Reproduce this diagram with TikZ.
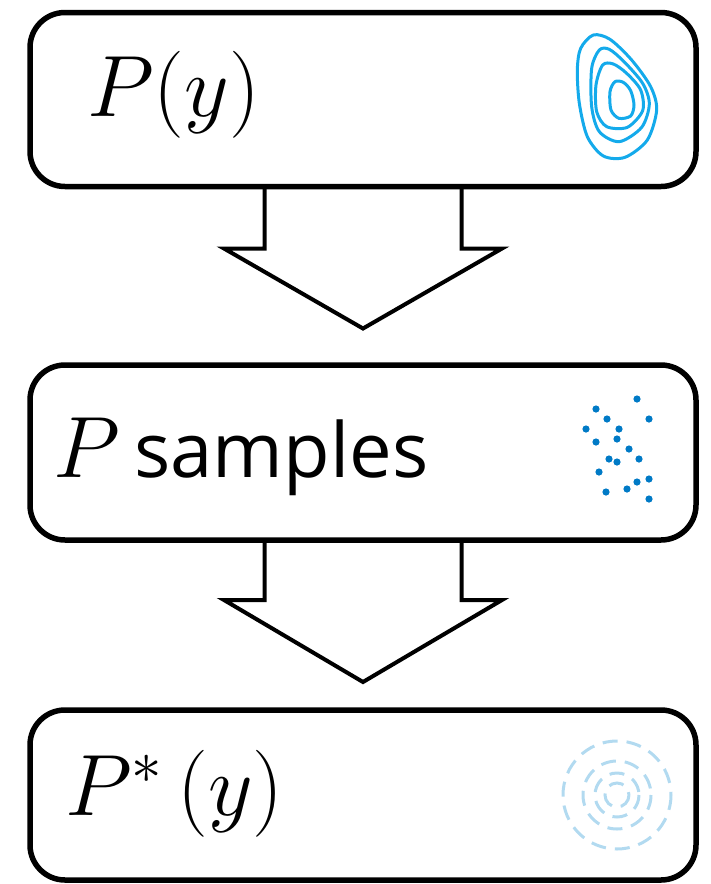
\RequirePackage{fix-cm}
\documentclass[tikz,border=0pt]{standalone}
\usepackage{fontspec}
\newfontfamily\samplefont{Open Sans}
\usetikzlibrary{positioning,calc}

\definecolor{contourblue}{RGB}{20,170,235}
\definecolor{dotblue}{RGB}{0,122,198}
\definecolor{ringblue}{RGB}{178,218,240}

\tikzset{
  flowbox/.style={draw, line width=5.5pt, rounded corners=35pt, minimum width=666pt, minimum height=174pt, outer sep=0pt, inner sep=0pt},
  bigtext/.style={inner sep=0pt, anchor=base west, font=\fontsize{87}{95}\selectfont},
  bigarrow/.style={draw, line width=4pt},
  contour/.style={draw=contourblue, line width=3pt},
  sample/.style={fill=dotblue},
  ring/.style={draw=ringblue, line width=3pt, dash pattern=on 15pt off 9pt}
}

\begin{document}
\begin{tikzpicture}[x=1pt, y=-1pt]
\useasboundingbox (0,0) rectangle (711,884);

\node[flowbox] (b1) at (363,99.5) {};
\node[flowbox, minimum height=175pt, below=178.5pt of b1] (b2) {};
\node[flowbox, minimum height=170pt, below=170pt of b2] (b3) {};

\node[bigtext] (t1) at ($(b1.west)+(57,17)$) {$P(y)$};
\node[bigtext] (t2) at ($(b2.west)+(23,25)$) {$P\,${\fontsize{76}{82}\samplefont samples}};
\node[bigtext] (t3) at ($(b3.west)+(35,20)$) {$P^{*}\,(y)$};

% arrows between the boxes
\draw[bigarrow] ($(b1.south)+(-98.5,0)$) -- ++(0,62) -- ++(-40.5,0) -- ($(b1.south)+(0,142)$)
  -- ($(b1.south)+(139,62)$) -- ++(-40.5,0) -- ++(0,-62);
\draw[bigarrow] ($(b2.south)+(-98.5,0)$) -- ++(0,60) -- ++(-40.5,0) -- ($(b2.south)+(0,142)$)
  -- ($(b2.south)+(139,60)$) -- ++(-40.5,0) -- ++(0,-60);

% density contours
\begin{scope}[shift={(560,30)}, x=0.3333pt, y=-0.3333pt]
\draw[contour] plot[smooth cycle] coordinates {(100,15) (62,55) (52,120) (58,220) (82,320) (130,378) (195,382) (262,330) (290,240) (272,170) (215,90) (150,28)};
\draw[contour] plot[smooth cycle] coordinates {(118,60) (95,115) (95,230) (118,305) (178,335) (245,292) (268,222) (248,160) (192,95) (148,58)};
\draw[contour] plot[smooth cycle] coordinates {(128,105) (108,165) (110,245) (140,290) (202,292) (248,242) (242,180) (200,130) (160,102)};
\draw[contour] plot[smooth cycle] coordinates {(165,155) (150,185) (153,240) (177,265) (212,258) (222,225) (212,182) (190,157)};
\end{scope}

% samples
\foreach \sx/\sy in {637/399, 596/409, 607/419, 649/419, 586/429, 619/429, 596/442, 617/439, 629/449,
  609/459, 617/462, 639/459, 599/472, 649/479, 637/482, 627/489, 606/492, 649/499}
  \fill[sample] (\sx,\sy) circle[radius=3.6];

% target rings
\foreach \r in {54,34,22,12}
  \draw[ring] (617,795) circle[radius=\r];
\end{tikzpicture}
\end{document}
